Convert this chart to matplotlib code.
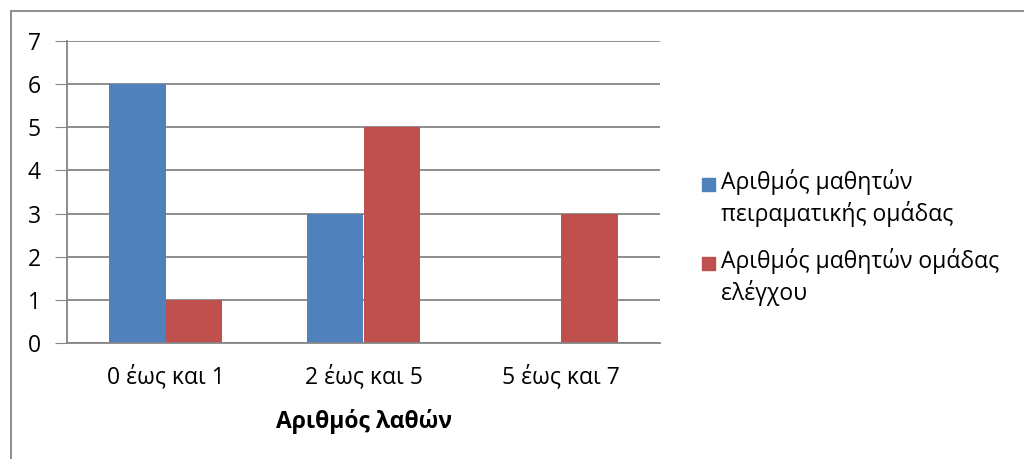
import matplotlib.pyplot as plt
from matplotlib.patches import Rectangle

plt.rcParams["font.family"] = ["Open Sans", "DejaVu Sans"]

categories = ["0 έως και 1", "2 έως και 5", "5 έως και 7"]
experimental = [6, 3, 0]
control = [1, 5, 3]
series_labels = ["Αριθμός μαθητών\nπειραματικής ομάδας", "Αριθμός μαθητών ομάδας\nελέγχου"]
colors = ["#4F81BD", "#C0504D"]
x_title = "Αριθμός λαθών"

FS = 16.5

fig = plt.figure(figsize=(10.24, 4.59), dpi=100)
ax = fig.add_axes([67 / 1024, 1 - 343 / 459, 593 / 1024, 302 / 459])

width = 1 / 3.5
xs = range(len(categories))
ax.bar([x - width / 2 for x in xs], experimental, width, color=colors[0], label=series_labels[0])
ax.bar([x + width / 2 for x in xs], control, width, color=colors[1], label=series_labels[1])

ax.set_xlim(-0.5, len(categories) - 0.5)
ax.set_ylim(0, 7)
ax.set_yticks(range(8))
ax.set_xticks(list(xs))
ax.set_xticklabels(categories, fontsize=FS)
ax.tick_params(axis="y", labelsize=FS, length=9, color="#868686", pad=10)
ax.tick_params(axis="x", length=0, pad=16)
ax.yaxis.grid(True, color="#868686", linewidth=1.3)
ax.set_axisbelow(True)
for side in ["top", "right"]:
    ax.spines[side].set_visible(False)
for side in ["left", "bottom"]:
    ax.spines[side].set_color("#868686")
    ax.spines[side].set_linewidth(1.3)
ax.set_xlabel(x_title, fontsize=FS, fontweight="bold", labelpad=14)

# legend drawn by hand so the swatch lines up with the first text line
legend_tops = [184, 263]
for label, color, y in zip(series_labels, colors, legend_tops):
    fig.patches.append(Rectangle((702 / 1024, 1 - (y + 7) / 459), 13 / 1024, 13 / 459,
                                 transform=fig.transFigure, color=color))
    fig.text(721 / 1024, 1 - (y - 15) / 459, label, fontsize=FS, va="top", linespacing=1.3)

# chart border
fig.patches.append(Rectangle((11 / 1024, -0.1), 1.2, 1 - 11 / 459 + 0.1, transform=fig.transFigure,
                             fill=False, edgecolor="#868686", linewidth=1.3))

fig.savefig("out.png", dpi=100)
